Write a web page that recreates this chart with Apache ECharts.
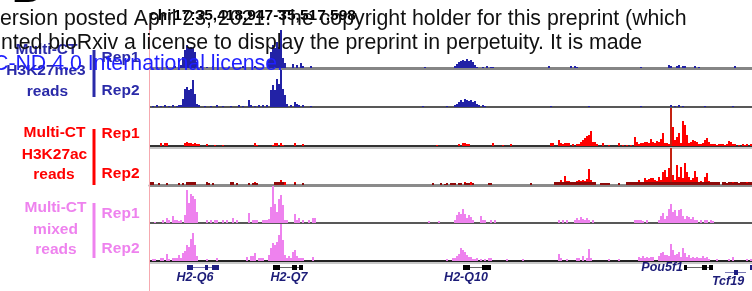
<!DOCTYPE html>
<html>
<head>
<meta charset="utf-8">
<script src="https://cdn.jsdelivr.net/npm/echarts@6/dist/echarts.min.js"></script>
<style>
html, body { margin: 0; padding: 0; background: #fff; }
#main { width: 752px; height: 291px; }
</style>
</head>
<body>
<div id="main"></div>
<script>
// chr17:35,418,947-35,517,598 split into 301 bins (~328 bp each)
var binCount = 301;

// coverage runs: [firstBin, value, value, ...] for consecutive bins
var blueRep1 = [
  [3, 1], [8, 2], [12, 2], [15, 3],
  [16, 11, 18, 23, 20, 21, 20, 16, 6],
  [25, 2], [28, 1], [31, 2], [36, 1], [46, 2], [52, 2],
  [59, 8, 16, 23, 20, 26, 21, 60, 10, 5],
  [71, 4], [73, 3], [75, 5, 2], [80, 2], [137, 1],
  [152, 2, 4, 6, 7, 8, 7, 9, 7, 8, 6, 3],
  [163, 1], [166, 1], [168, 2], [170, 1, 1], [199, 2], [210, 2], [212, 2, 1],
  [245, 1], [259, 3, 2], [263, 2, 3], [266, 2, 2], [272, 2], [274, 1], [292, 2]
];
var blueRep2 = [
  [1, 1], [3, 2], [5, 1], [7, 2], [9, 1], [11, 2], [13, 1, 2, 2],
  [16, 8, 18, 20, 17, 18, 27, 13, 3],
  [24, 2], [27, 1], [30, 1], [33, 2], [36, 1], [40, 1], [44, 2], [46, 1],
  [49, 7, 2], [52, 1], [54, 2], [56, 2], [58, 2],
  [60, 17, 22, 17, 28, 23, 37, 18, 12],
  [68, 3], [70, 2], [72, 5, 3, 2], [76, 2], [80, 1], [136, 1], [148, 1],
  [152, 2, 3, 5, 7, 5, 8, 7, 6, 7, 5, 6, 3, 2],
  [166, 2, 1], [200, 1], [219, 1], [245, 1], [260, 2], [262, 1], [264, 2], [266, 1], [277, 1], [291, 1]
];
var redRep1 = [
  [5, 3], [7, 3, 3],
  [17, 3, 4, 3, 3, 2, 3, 2, 2],
  [28, 2], [32, 1], [36, 1], [52, 3, 1],
  [61, 1, 3, 3], [65, 3, 1], [72, 3], [76, 2], [143, 1],
  [154, 2], [156, 3, 3, 2, 2], [171, 3], [176, 1], [180, 2], [200, 3, 3],
  [204, 6, 3, 2, 3, 3, 3], [211, 2],
  [213, 2, 2, 4, 6, 8, 10, 11, 15, 4, 4, 2],
  [226, 3], [229, 1], [234, 3], [236, 1], [238, 1], [240, 1],
  [242, 9, 4, 2, 3, 3, 4, 4, 3],
  [250, 7, 4, 3, 5, 4, 7, 13, 3, 3, 2, 100, 19, 6, 9, 13, 3, 25, 21, 11, 3, 4, 6, 5, 4, 2, 2,
        3, 6, 8, 4, 2, 2, 2, 1, 2, 2, 2, 1, 2, 5, 4, 2, 2],
  [294, 1], [296, 2, 1, 2], [300, 2]
];
var redRep2 = [
  [18, 3, 2], [21, 3, 2], [28, 2], [52, 3, 2], [62, 2, 3, 2, 5, 3, 3], [72, 3], [76, 2],
  [155, 2], [157, 3], [160, 3],
  [202, 2, 2, 2, 5, 3, 9, 4, 4, 2],
  [213, 4, 5, 4, 5, 4, 6, 16, 5, 3],
  [225, 2], [229, 2], [240, 3],
  [244, 5, 3, 3, 7, 5, 6, 7, 7, 5, 4, 8, 5, 13, 15, 8, 17, 100, 10, 5, 20, 8, 18, 7, 22, 13,
        8, 5, 7, 14, 8, 3, 4, 3, 8, 12, 4, 3, 2, 2],
  [287, 2], [289, 3], [291, 3], [294, 2], [297, 2], [298, 3], [300, 3]
];
// multi-mapped part of Rep2 (dark)
var redRep2Multi = [
  [0, 3, 3], [4, 2], [8, 2], [14, 2], [16, 2], [18, 3, 3, 3, 3, 3], [28, 3, 2], [31, 2],
  [40, 3, 3], [43, 2], [49, 2], [51, 2, 2, 2], [62, 3, 3, 3, 3, 3], [72, 2], [76, 2],
  [141, 2], [145, 2], [147, 1, 2], [150, 2, 2, 2], [154, 2, 2], [157, 2, 2, 2], [161, 2],
  [169, 2, 2], [190, 2],
  [202, 3, 3, 3, 3, 3, 3, 3, 3, 3, 3, 3, 3, 3, 3, 3, 3, 3, 3, 3, 3, 3],
  [225, 2, 2, 2, 2, 2], [234, 2],
  [238, 3, 3, 3, 3, 3, 3, 3, 3, 3, 3, 3, 3, 3, 3, 3, 3, 3, 3, 3, 3, 3, 3, 3, 3, 3, 3, 3, 3,
        3, 3, 3, 3, 3, 3, 3, 3, 3, 3, 3, 3, 3, 3, 3, 3, 3, 3, 3],
  [286, 3, 3, 2, 3, 3, 2, 3, 3, 2, 3, 3, 3, 2, 3, 3]
];
var pinkRep1 = [
  [2, 1], [6, 3], [8, 5, 3], [11, 7, 3, 3, 2, 3],
  [17, 8, 33, 20, 29, 27, 24, 11],
  [28, 3], [30, 3], [32, 3, 3], [36, 3], [38, 3], [41, 5], [43, 3], [49, 10],
  [51, 3, 3, 3], [56, 3, 3, 3],
  [59, 4, 16, 40, 19, 11, 24, 28, 18, 3, 3],
  [72, 9, 3, 5], [76, 3], [79, 3], [81, 5, 5], [139, 2], [144, 2],
  [152, 3, 8, 11, 9, 14, 9, 5, 8, 6, 3],
  [165, 7, 3, 3], [170, 3], [172, 3], [204, 3], [206, 3], [208, 3],
  [212, 3, 5, 3, 6, 4, 3, 5, 3], [221, 3],
  [242, 3, 3, 3, 3, 2], [248, 3],
  [254, 3, 7, 10, 4, 7, 14, 19, 11, 13, 7, 13, 14, 7, 4, 7, 6, 4, 6, 3, 3],
  [275, 3], [277, 3, 3], [280, 3, 2]
];
var pinkRep2 = [
  [1, 2, 2], [5, 3, 3], [8, 7, 2], [11, 3, 3, 3, 6, 3],
  [16, 8, 10, 16, 14, 22, 28, 16, 5],
  [28, 2], [33, 3], [48, 4], [50, 5, 5, 8], [54, 3, 3, 3],
  [59, 6, 13, 18, 16, 19, 26, 40, 21, 6, 3, 5, 3, 9, 11, 5, 3, 3, 3],
  [81, 4], [148, 2],
  [151, 3, 3, 5, 7, 13, 11, 9, 6, 4, 4, 2, 2, 3], [165, 2], [167, 2], [169, 3, 3],
  [178, 2], [186, 2], [204, 7, 3], [208, 2], [213, 3, 3], [216, 5], [218, 3, 12, 3],
  [229, 2], [234, 2],
  [244, 4, 3, 5, 3, 4, 3, 4, 4],
  [254, 5, 8, 9, 6, 6, 5, 17, 11, 6, 7, 9, 4, 13, 8, 4, 6, 3, 4, 3, 4, 3, 3, 5, 3, 4, 2],
  [283, 2], [289, 2], [291, 4], [298, 2], [300, 2]
];
// bins where the H3K27ac signal overshoots the track
var spikeBins = [260];

// genes, in bin units
var genes = [
  { name: 'H2-Q6', start: 18.5, end: 34.5, exons: [[18.5, 21.5], [27.5, 29], [31, 34.5]] },
  { name: 'H2-Q7', start: 61.5, end: 76.5, exons: [[61.5, 65], [71, 73.5], [74.5, 76.5]] },
  { name: 'H2-Q10', start: 156.5, end: 170.5, exons: [[156.5, 160], [166, 170.5]] },
  { name: 'Pou5f1', start: 267, end: 281.5, exons: [[267, 268.5], [276, 278.5], [279.5, 281.5]] },
  { name: 'Tcf19', start: 287.5, end: 298, exons: [[292, 294]] },
  { name: '', start: 300, end: 301, exons: [[300, 301]] }
];

function expand(runs) {
  var arr = new Array(binCount).fill(0);
  runs.forEach(function (r) {
    for (var k = 1; k < r.length; k++) arr[r[0] + k - 1] = r[k];
  });
  return arr;
}

function withSpikes(arr, color) {
  return arr.map(function (v, i) {
    return spikeBins.indexOf(i) >= 0 ? { value: v, itemStyle: { color: color } } : v;
  });
}

var BLUE = '#2222a6', RED = '#ff0000', DARKRED = '#8e0a0a', PINK = '#ee82ee';
var bins = [];
for (var i = 0; i < binCount; i++) bins.push(i);

// track layout: top, height, baseline style
var tracks = [
  { top: 30, h: 38, line: '#858585', lw: 3 },
  { top: 70, h: 37, line: '#222', lw: 1.5 },
  { top: 108, h: 38, line: '#333', lw: 2 },
  { top: 148, h: 37, line: '#8a8a8a', lw: 3 },
  { top: 186, h: 37, line: '#222', lw: 1.5 },
  { top: 224, h: 37, line: '#222', lw: 2 }
];

var grids = [], xAxes = [], yAxes = [];
tracks.forEach(function (t, k) {
  grids.push({ left: 150, width: 602, top: t.top, height: t.h });
  xAxes.push({
    type: 'category', gridIndex: k, data: bins, boundaryGap: true,
    axisLine: { lineStyle: { color: t.line, width: t.lw } },
    axisTick: { show: false }, axisLabel: { show: false }, splitLine: { show: false }
  });
  yAxes.push({ type: 'value', gridIndex: k, min: 0, max: t.h, show: false });
});
// gene track
grids.push({ left: 150, width: 602, top: 262, height: 29 });
xAxes.push({ type: 'value', gridIndex: 6, min: 0, max: binCount, show: false });
yAxes.push({ type: 'value', gridIndex: 6, min: 0, max: 1, show: false });

function barSeries(k, data, color, z) {
  return {
    type: 'bar', xAxisIndex: k, yAxisIndex: k, data: data,
    barCategoryGap: '0%', barGap: '-100%', itemStyle: { color: color },
    silent: true, animation: false, z: z || 2
  };
}

var geneStyle = {
  'H2-Q6': { color: '#1e1e82', labelX: 22.5, labelDy: 10 },
  'H2-Q7': { color: '#000', labelX: 69.5, labelDy: 10 },
  'H2-Q10': { color: '#000', labelX: 158, labelDy: 10 },
  'Pou5f1': { color: '#000', left: true },
  'Tcf19': { color: '#1e1e82', row: 1, labelX: 289, labelDy: 9 },
  '': { color: '#1e1e82' }
};

function renderGene(params, api) {
  var g = genes[api.value(2)];
  var st = geneStyle[g.name];
  var y = params.coordSys.y + 5.5 + (st.row || 0) * 5;
  var x0 = api.coord([g.start, 0])[0], x1 = api.coord([g.end, 0])[0];
  var kids = [{
    type: 'line', shape: { x1: x0, y1: y, x2: x1, y2: y },
    style: { stroke: st.color, lineWidth: 1, opacity: 0.6 }
  }];
  g.exons.forEach(function (e) {
    var a = api.coord([e[0], 0])[0], b = api.coord([e[1], 0])[0];
    kids.push({ type: 'rect', shape: { x: a, y: y - 2.5, width: b - a, height: 5 }, style: { fill: st.color } });
  });
  if (g.name) {
    var lx = st.left ? x0 - 1 : api.coord([st.labelX, 0])[0];
    kids.push({
      type: 'text',
      style: {
        text: g.name, x: lx, y: st.left ? y : y + st.labelDy,
        align: st.left ? 'right' : 'center', verticalAlign: 'middle',
        font: 'italic bold 12.5px "Liberation Sans", Arial, sans-serif', fill: '#1c1c78'
      }
    });
  }
  return { type: 'group', children: kids };
}

var series = [
  barSeries(0, expand(blueRep1), BLUE),
  barSeries(1, expand(blueRep2), BLUE),
  barSeries(2, withSpikes(expand(redRep1), '#c42312'), RED),
  barSeries(3, withSpikes(expand(redRep2), '#c42312'), RED),
  barSeries(3, expand(redRep2Multi), DARKRED, 3),
  barSeries(4, expand(pinkRep1), PINK),
  barSeries(5, expand(pinkRep2), PINK),
  {
    type: 'custom', xAxisIndex: 6, yAxisIndex: 6, silent: true, animation: false,
    renderItem: renderGene,
    data: genes.map(function (g, i) { return [g.start, 0.5, i]; })
  }
];

var LABEL = 'bold 15.5px "Liberation Sans", Arial, sans-serif';
var NOTE = '21.3px "Liberation Sans", Arial, sans-serif';
function txt(s, x, y, font, color, align, z) {
  return {
    type: 'text', x: x, y: y, z: z || 10, silent: true,
    style: { text: s, font: font, fill: color, align: align || 'center', verticalAlign: 'middle' }
  };
}
function vbar(x, y1, y2, color) {
  return { type: 'rect', z: 10, silent: true, shape: { x: x, y: y1, width: 3, height: y2 - y1 }, style: { fill: color } };
}

var graphics = [
  { type: 'line', z: 1, silent: true, shape: { x1: 149.5, y1: 23, x2: 149.5, y2: 291 }, style: { stroke: '#f6aab0', lineWidth: 1 } },
  { type: 'line', z: 1, silent: true, shape: { x1: 150, y1: 148, x2: 752, y2: 148 }, style: { stroke: '#c4c4c4', lineWidth: 2 } },
  { type: 'line', z: 1, silent: true, shape: { x1: 150, y1: 263, x2: 752, y2: 263 }, style: { stroke: '#c8c8c8', lineWidth: 2 } },

  txt('Multi-CT', 46.5, 49.5, LABEL, '#2a2aa8'),
  txt('H3K27me3', 46, 70.5, LABEL, '#2a2aa8'),
  txt('reads', 47.5, 91.5, LABEL, '#2a2aa8'),
  vbar(92.5, 50, 97, '#2a2aa8'),
  txt('Rep1', 139.5, 57.5, LABEL, '#2a2aa8', 'right'),
  txt('Rep2', 139.5, 90.5, LABEL, '#2a2aa8', 'right'),

  txt('Multi-CT', 54.5, 133, LABEL, '#ff0000'),
  txt('H3K27ac', 54.5, 154.5, LABEL, '#ff0000'),
  txt('reads', 54, 174.5, LABEL, '#ff0000'),
  vbar(92.5, 129, 185, '#ff0000'),
  txt('Rep1', 139.5, 134, LABEL, '#ff0000', 'right'),
  txt('Rep2', 139.5, 174, LABEL, '#ff0000', 'right'),

  txt('Multi-CT', 55.5, 208, LABEL, '#ee82ee'),
  txt('mixed', 55.5, 229.5, LABEL, '#ee82ee'),
  txt('reads', 56, 249.5, LABEL, '#ee82ee'),
  vbar(92.5, 203, 258, '#ee82ee'),
  txt('Rep1', 139.5, 214, LABEL, '#ee82ee', 'right'),
  txt('Rep2', 139.5, 249, LABEL, '#ee82ee', 'right'),

  txt('chr17:35,418,947-35,517,598', 252.5, 15.5, 'bold 15.5px "Liberation Sans", Arial, sans-serif', '#000', 'center', 20),

  // bioRxiv watermark overlapping the figure
  txt('B', 12, -9, 'bold 40px "Liberation Sans", Arial, sans-serif', '#000', 'left', 30),
  txt('ersion posted April 23, 2021. The copyright holder for this preprint (which', 0, 19.2, NOTE, '#111', 'left', 30),
  txt('nted bioRxiv a license to display the preprint in perpetuity. It is made', 1, 42.7, NOTE, '#111', 'left', 30),
  txt('C-ND 4.0 International license.', -7, 63.7, NOTE, '#1f1fff', 'left', 30)
];

var chart = echarts.init(document.getElementById('main'), null, { renderer: 'canvas' });
chart.setOption({
  animation: false,
  grid: grids,
  xAxis: xAxes,
  yAxis: yAxes,
  series: series,
  graphic: { elements: graphics }
});
</script>
</body>
</html>
